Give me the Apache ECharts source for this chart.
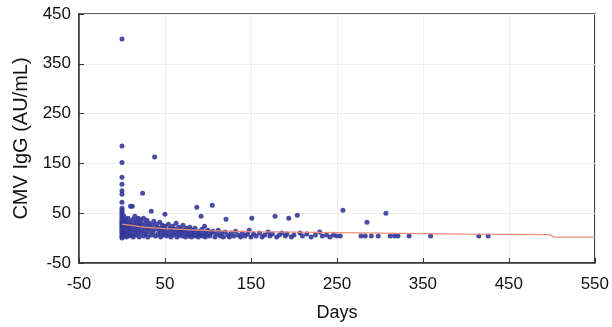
<!DOCTYPE html>
<html>
<head>
<meta charset="utf-8">
<script src="https://cdn.jsdelivr.net/npm/echarts@6/dist/echarts.min.js"></script>
<style>
  html, body { margin: 0; padding: 0; background: #fff; }
  #chart { width: 612px; height: 327px; }
</style>
</head>
<body>
<div id="chart"></div>
<script>
// measured points: [days, CMV IgG AU/mL]
const igg = [
  [0,0],[0,3],[0,6],[0,9],[0,12],[0,15],[0,18],[0,21],[0,24],[0,27],[0,30],[0,33],[0,36],[0,40],[0,44],[0,48],[0,52],[0,56],[0,60],[0,72],[0,88],[0,95],[0,108],[0,122],[0,152],[0,185],[0,400],
  [2,5],[2,20],[2,35],[2,45],[3,10],[3,28],[4,15],[4,38],[5,2],[5,22],[5,32],
  [6,8],[6,26],[7,18],[7,40],[8,4],[8,30],[9,12],[9,22],[10,34],[10,64],[11,6],[11,26],[12,16],[12,64],[13,38],[13,2],[14,24],[15,10],[15,30],[15,44],
  [16,18],[17,6],[17,34],[18,26],[19,14],[19,40],[20,2],[20,22],[21,30],[22,10],[22,36],[23,18],[24,26],[24,90],[25,4],[25,40],[26,14],[27,30],[28,20],[28,8],[29,36],[30,24],[30,2],
  [31,14],[32,30],[33,20],[34,54],[34,6],[35,26],[36,12],[37,34],[38,163],[38,18],[39,4],[40,28],[41,22],[42,8],[43,16],[44,32],[45,2],[45,20],[46,12],[47,26],[48,6],[49,18],[50,48],[50,10],[50,24],
  [52,4],[53,16],[54,28],[55,8],[56,20],[57,2],[58,14],[59,24],[60,6],[61,18],[62,10],[63,30],[64,2],[65,14],[66,22],[67,6],[68,12],[69,18],[70,4],[71,26],[72,10],[73,16],[74,2],[75,20],
  [76,8],[77,14],[78,4],[79,22],[80,10],[81,2],[82,16],[83,6],[84,12],[85,20],[86,4],[87,62],[88,10],[89,2],[90,14],[91,6],[92,44],[93,18],[94,4],[95,10],[96,24],[97,2],[98,12],[99,6],[100,16],
  [102,4],[104,10],[105,66],[106,14],[108,2],[110,8],[112,16],[114,4],[116,10],[118,2],[120,12],[121,38],[123,6],[125,2],[127,10],[130,4],[132,14],[135,6],[138,2],[140,10],[143,4],[146,8],[148,16],[150,2],[151,40],[153,8],[156,4],[160,10],[163,2],[166,6],[170,12],[172,4],[175,8],[178,44],[180,2],[183,6],[186,10],[190,4],[192,8],[194,40],[197,2],[200,6],[204,46],
  [207,10],[210,4],[215,8],[220,2],[225,6],[230,12],[233,4],[238,6],[242,2],[246,6],[250,4],[254,4],[257,56],
  [278,4],[283,4],[285,32],[290,4],[298,4],[307,50],[312,4],[317,4],[321,4],[334,4],[359,4],[415,4],[426,4]
];

// fitted trend line
const trendDays = [0, 25, 50, 100, 150, 200, 250, 300, 350, 400, 450, 497, 503, 550];
const trendValues = [28, 22, 19, 15, 13, 12, 11, 10, 9, 8, 7.5, 7, 2, 2];

const xTicks = [-50, 50, 150, 250, 350, 450, 550];
const yTicks = [-50, 50, 150, 250, 350, 450];

const chart = echarts.init(document.getElementById('chart'));

const font = 'Liberation Sans';

chart.setOption({
  animation: false,
  grid: {
    left: 79,
    right: 14,
    top: 14,
    bottom: 64,
    show: true,
    borderColor: '#333',
    borderWidth: 1.5,
  },
  xAxis: {
    type: 'value',
    min: xTicks[0],
    max: xTicks[xTicks.length - 1],
    interval: 100,
    name: 'Days',
    nameLocation: 'middle',
    nameGap: 41,
    nameTextStyle: { color: '#111', fontSize: 18, fontFamily: font },
    axisLine: { show: true, onZero: false, lineStyle: { color: '#333', width: 1.5 } },
    axisTick: { show: true, inside: true, length: 5, lineStyle: { color: '#333' } },
    axisLabel: { color: '#111', fontSize: 17, fontFamily: font, margin: 13 },
    splitLine: { show: true, lineStyle: { color: '#eeeeee', width: 1 } },
  },
  yAxis: {
    type: 'value',
    min: yTicks[0],
    max: yTicks[yTicks.length - 1],
    interval: 100,
    name: 'CMV IgG (AU/mL)',
    nameLocation: 'middle',
    nameGap: 47,
    nameTextStyle: { color: '#111', fontSize: 20, fontFamily: font },
    axisLine: { show: true, onZero: false, lineStyle: { color: '#333', width: 1.5 } },
    axisTick: { show: true, inside: true, length: 5, lineStyle: { color: '#333' } },
    axisLabel: { color: '#111', fontSize: 17, fontFamily: font, margin: 8 },
    splitLine: { show: true, lineStyle: { color: '#eeeeee', width: 1 } },
  },
  series: [
    {
      type: 'line',
      data: trendDays.map((d, i) => [d, trendValues[i]]),
      showSymbol: false,
      smooth: false,
      lineStyle: { color: '#ec8d7a', width: 1.2 },
      z: 3,
    },
    {
      type: 'scatter',
      data: igg,
      symbol: 'circle',
      symbolSize: 5,
      itemStyle: { color: '#33399a', opacity: 0.9 },
      z: 2,
    },
  ],
});
</script>
</body>
</html>
